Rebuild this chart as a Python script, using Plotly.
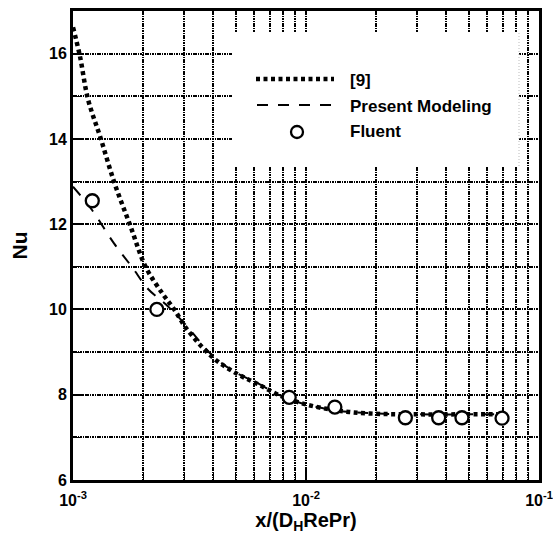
import plotly.graph_objects as go

# Reference correlation [9]
ref9_x = [1.0e-3, 1.07e-3, 1.16e-3, 1.31e-3, 1.51e-3, 1.76e-3, 2.05e-3, 2.43e-3,
          2.72e-3, 3.08e-3, 3.99e-3, 5.06e-3, 6.16e-3, 7.73e-3, 9.70e-3, 1.36e-2,
          1.88e-2, 3.0e-2, 5.0e-2, 7.0e-2]
ref9_y = [16.62, 15.95, 14.93, 14.04, 12.95, 11.97, 11.0, 10.36,
          10.0, 9.54, 8.87, 8.49, 8.26, 7.98, 7.79, 7.63,
          7.56, 7.54, 7.54, 7.54]

# Present modeling
model_x = [1.0e-3, 1.2e-3, 1.5e-3, 1.8e-3, 2.1e-3, 2.5e-3, 3.0e-3, 4.0e-3,
           5.0e-3, 6.2e-3, 7.7e-3, 1.0e-2, 1.4e-2, 2.0e-2, 3.0e-2, 5.0e-2, 7.0e-2]
model_y = [12.88, 12.35, 11.55, 10.98, 10.48, 10.12, 9.68, 8.9,
           8.52, 8.27, 7.99, 7.77, 7.62, 7.56, 7.54, 7.54, 7.54]

# Fluent results
fluent_x = [1.21e-3, 2.29e-3, 8.47e-3, 1.33e-2, 2.67e-2, 3.71e-2, 4.67e-2, 6.94e-2]
fluent_y = [12.55, 10.0, 7.94, 7.71, 7.46, 7.46, 7.46, 7.45]

x_ticks = [1e-3, 1e-2, 1e-1]
x_ticktext = ["10<sup>-3</sup>", "10<sup>-2</sup>", "10<sup>-1</sup>"]
x_minor = [k * 1e-3 for k in range(2, 10)] + [k * 1e-2 for k in range(2, 10)]
y_ticks = [6, 8, 10, 12, 14, 16]
y_minor = [7, 9, 11, 13, 15]

legend_labels = ["[9]", "Present Modeling", "Fluent"]

FONT = "Liberation Sans, Arial, Helvetica, sans-serif"
W_FIG, H_FIG = 553, 535
L, R, T, B = 73, 14, 11, 55
PW, PH = W_FIG - L - R, H_FIG - T - B

DOT = dict(color="black", width=4.5, dash="4px,3.5px")
DASH = dict(color="black", width=2, dash="11px,10px")
GRID = dict(gridcolor="black", griddash="1.6px,0.8px", gridwidth=1.6)


def fx(p):
    return (p - L) / PW


def fy(p):
    return (T + PH - p) / PH


fig = go.Figure()
fig.add_trace(go.Scatter(x=ref9_x, y=ref9_y, mode="lines", line=DOT,
                         line_shape="spline", name=legend_labels[0], showlegend=False))
fig.add_trace(go.Scatter(x=model_x, y=model_y, mode="lines", line=DASH,
                         line_shape="spline", name=legend_labels[1], showlegend=False))
fig.add_trace(go.Scatter(x=fluent_x, y=fluent_y, mode="markers",
                         marker=dict(symbol="circle", size=13, color="white",
                                     line=dict(color="black", width=2.3)),
                         name=legend_labels[2], showlegend=False))

# Legend panel drawn over the grid (no data passes through this region)
shapes = [
    dict(type="rect", xref="paper", yref="paper", x0=fx(232), x1=fx(519),
         y0=fy(166), y1=fy(32), fillcolor="white", line=dict(width=0), layer="above"),
    dict(type="line", xref="paper", yref="paper", x0=fx(519), x1=fx(519),
         y0=fy(166), y1=fy(32), line=dict(color="#bbbbbb", width=1, dash="1px,2px"),
         layer="above"),
    dict(type="line", xref="paper", yref="paper", x0=fx(256), x1=fx(334),
         y0=fy(79), y1=fy(79), line=DOT, layer="above"),
    dict(type="line", xref="paper", yref="paper", x0=fx(257), x1=fx(337),
         y0=fy(105), y1=fy(105), line=DASH, layer="above"),
    dict(type="circle", xref="paper", yref="paper", x0=fx(297 - 6), x1=fx(297 + 6),
         y0=fy(132 + 6), y1=fy(132 - 6), fillcolor="white",
         line=dict(color="black", width=2.3), layer="above"),
]
annotations = [
    dict(xref="paper", yref="paper", x=fx(348), y=fy(yy), text=t, showarrow=False,
         xanchor="left", yanchor="middle", font=dict(size=17, family=FONT, weight="bold"))
    for t, yy in zip(legend_labels, [80, 106, 131])
]

fig.update_layout(
    width=W_FIG, height=H_FIG,
    margin=dict(l=L, r=R, t=T, b=B),
    paper_bgcolor="white", plot_bgcolor="white",
    font=dict(family=FONT, size=16, color="black", weight="bold"),
    shapes=shapes, annotations=annotations,
    showlegend=False,
)
fig.update_xaxes(
    type="log", range=[-3, -1], automargin=False,
    tickvals=x_ticks, ticktext=x_ticktext,
    ticks="inside", ticklen=9, tickwidth=1.5, tickcolor="black",
    ticklabelstandoff=4,
    showline=True, linewidth=3, linecolor="black", mirror=True,
    showgrid=True, **GRID,
    minor=dict(tickvals=x_minor, ticks="inside", ticklen=8, tickwidth=1.2,
               tickcolor="black", showgrid=True, **GRID),
    title=dict(text="x/(D<sub>H</sub>RePr)", font=dict(size=20, family=FONT, weight="bold"),
               standoff=3),
    zeroline=False,
)
fig.update_yaxes(
    range=[6, 17], automargin=False,
    tickvals=y_ticks,
    ticks="inside", ticklen=11, tickwidth=1.5, tickcolor="black",
    showline=True, linewidth=3, linecolor="black", mirror=True,
    showgrid=True, **GRID,
    minor=dict(tickvals=y_minor, ticks="inside", ticklen=7, tickwidth=1.2,
               tickcolor="black", showgrid=True, **GRID),
    title=dict(text="Nu", font=dict(size=21, family=FONT, weight="bold"), standoff=16),
    zeroline=False,
)

fig.write_html("out.html")
